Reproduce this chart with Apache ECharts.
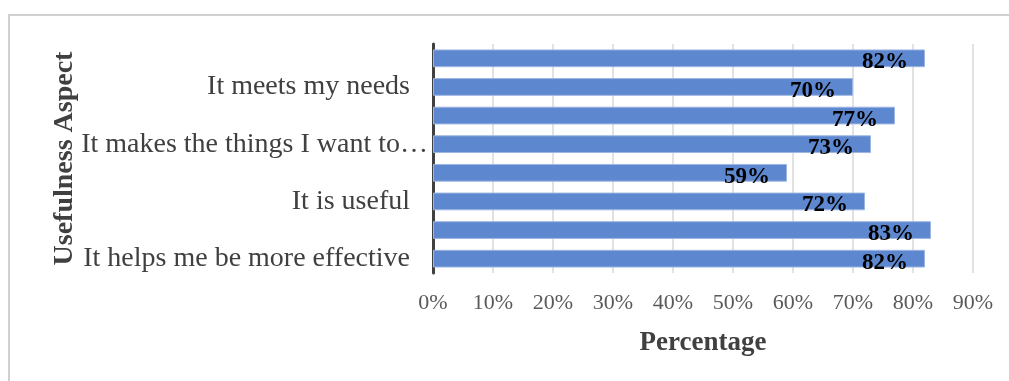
<!DOCTYPE html>
<html>
<head>
<meta charset="utf-8">
<script src="https://cdn.jsdelivr.net/npm/echarts@6/dist/echarts.min.js"></script>
<style>
  html, body { margin: 0; padding: 0; background: #ffffff; }
  #chart { width: 1009px; height: 381px; }
</style>
</head>
<body>
<div id="chart"></div>
<script>
// Usefulness aspects, listed from the bottom bar to the top bar
const categories = [
  'It helps me be more effective',
  'It helps me be more productive',
  'It is useful',
  'It gives me more control over the activities in my life',
  'It makes the things I want to accomplish easier to get done',
  'It saves me time when I use it',
  'It meets my needs',
  'It does everything I would expect it to do'
];
// Share of respondents agreeing, in percent
const percentages = [82, 83, 72, 59, 73, 77, 70, 82];
// Percentage axis ticks
const xTicks = [0, 10, 20, 30, 40, 50, 60, 70, 80, 90];

const FONT = '"Liberation Serif", "Times New Roman", serif';
const LABEL_SIZE = 28;
const LABEL_MAX_WIDTH = 350;
const LABEL_FONT = LABEL_SIZE + 'px ' + FONT;

// Long category names are cut with an ellipsis and sit a little closer to the axis
function categoryLabel(name) {
  const w = echarts.format.getTextRect
    ? echarts.format.getTextRect(name, LABEL_FONT).width
    : name.length * LABEL_SIZE * 0.45;
  if (w <= LABEL_MAX_WIDTH) {
    return '{n|' + name + '}';
  }
  let cut = name;
  if (echarts.format.truncateText) {
    cut = echarts.format.truncateText(name, LABEL_MAX_WIDTH, LABEL_FONT, '…');
  } else {
    cut = name.slice(0, 29) + '…';
  }
  return '{t|' + cut + '}';
}

const chart = echarts.init(document.getElementById('chart'), null, { renderer: 'canvas' });

chart.setOption({
  animation: false,
  backgroundColor: '#ffffff',
  textStyle: { fontFamily: FONT },
  graphic: [{
    type: 'rect',
    silent: true,
    shape: { x: 9, y: 15, width: 1020, height: 400 },
    style: { fill: 'none', stroke: '#d0d0d0', lineWidth: 2 }
  }],
  grid: { left: 433, right: 36, top: 44, bottom: 108, containLabel: false },
  xAxis: {
    type: 'value',
    min: xTicks[0],
    max: xTicks[xTicks.length - 1],
    interval: xTicks[1] - xTicks[0],
    name: 'Percentage',
    nameLocation: 'middle',
    nameGap: 57,
    nameMoveOverlap: false,
    nameTextStyle: { fontFamily: FONT, fontSize: 27, fontWeight: 'bold', color: '#404040' },
    axisLine: { show: false },
    axisTick: { show: false },
    axisLabel: {
      formatter: '{value}%',
      margin: 19,
      fontFamily: FONT,
      fontSize: 22,
      color: '#595959'
    },
    splitLine: { show: true, lineStyle: { color: '#d9d9d9', width: 1.5 } }
  },
  yAxis: {
    type: 'category',
    data: categories,
    name: 'Usefulness Aspect',
    nameLocation: 'middle',
    nameRotate: 90,
    nameGap: 354,
    nameMoveOverlap: false,
    nameTextStyle: { fontFamily: FONT, fontSize: 28, fontWeight: 'bold', color: '#404040' },
    axisLine: { show: true, lineStyle: { color: '#404040', width: 3 } },
    axisTick: { show: false },
    axisLabel: {
      interval: 1,
      margin: 5,
      formatter: categoryLabel,
      rich: {
        n: { fontFamily: FONT, fontSize: LABEL_SIZE, color: '#404040', padding: [0, 18, 0, 0] },
        t: { fontFamily: FONT, fontSize: LABEL_SIZE, color: '#404040' }
      }
    },
    splitLine: { show: false }
  },
  series: [{
    type: 'bar',
    data: percentages,
    barCategoryGap: '38%',
    itemStyle: { color: '#5d87cf', borderColor: '#9db5e2', borderWidth: 1 },
    label: {
      show: true,
      position: 'insideRight',
      distance: 17,
      offset: [0, 4],
      formatter: '{c}%',
      fontFamily: FONT,
      fontSize: 23,
      fontWeight: 'bold',
      color: '#000000'
    }
  }]
});
</script>
</body>
</html>
